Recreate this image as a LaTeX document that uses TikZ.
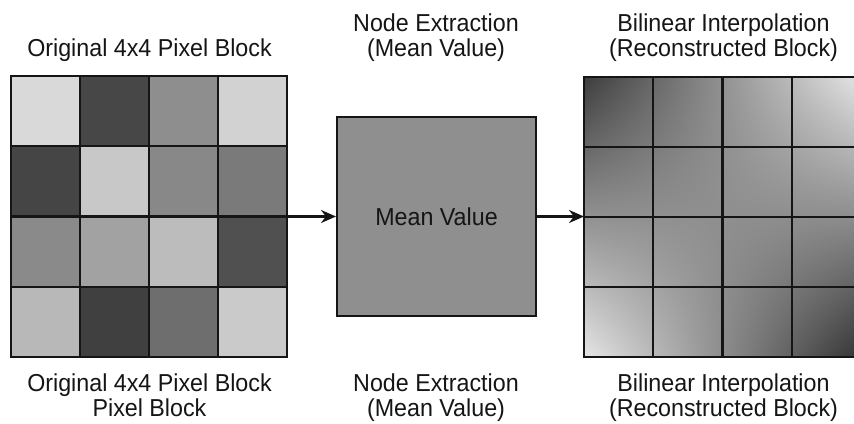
\documentclass[tikz,border=0pt]{standalone}
\usepackage{fontspec}
\usepackage{graphicx}
\setmainfont{Liberation Sans}
\usetikzlibrary{arrows.meta}

% Saddle-shaped bilinear field: dark top-left and bottom-right corners,
% light top-right and bottom-left corners. The path box maps to 25..75bp.
\pgfdeclarefunctionalshading{bilinfield}{\pgfpoint{0bp}{0bp}}{\pgfpoint{100bp}{100bp}}{}{
  25 sub 2 mul exch 25 sub 2 mul exch
  2 copy mul 0.000136 mul 3 1 roll
  -0.0066 mul exch -0.0070 mul add add 0.90 add
  dup dup
}

\definecolor{inkc}{HTML}{151515}
\definecolor{boxgray}{HTML}{8F8F8F}

\newcommand\lbl[1]{\scalebox{0.95}[1]{#1}}

\tikzset{
  caption/.style={anchor=base, inner sep=0pt, text=inkc,
    font=\fontsize{24.5}{26}\selectfont},
  gridline/.style={draw=inkc, line width=2.4pt},
  flowarrow/.style={draw=inkc, line width=2.2pt,
    -{Stealth[length=15pt, width=13pt]}},
  frame/.style={inner sep=0pt, outer sep=0pt, draw=none},
}

\begin{document}
\begin{tikzpicture}[x=1pt, y=-1pt]
\useasboundingbox (0,0) rectangle (854,423);
\clip (0,0) rectangle (854,423);
\fill[white] (0,0) rectangle (854,423);

% ---------- original 4x4 block ----------
\node[frame, minimum width=276pt, minimum height=281pt] (orig) at (149,216.5) {};
\foreach \c/\r/\g in {
  0/0/217, 1/0/71,  2/0/142, 3/0/210,
  0/1/69,  1/1/200, 2/1/136, 3/1/122,
  0/2/138, 1/2/162, 2/2/188, 3/2/80,
  0/3/184, 1/3/64,  2/3/110, 3/3/202}
{
  \fill[fill={rgb,255:red,\g;green,\g;blue,\g}]
    ({11+69*\c},{76+70.25*\r}) rectangle ({11+69*(\c+1)},{76+70.25*(\r+1)});
}
\foreach \k in {1,2,3} {
  \draw[gridline] ({11+69*\k},76) -- ({11+69*\k},357);
  \draw[gridline] (11,{76+70.25*\k}) -- (287,{76+70.25*\k});
}
\draw[gridline] (orig.north west) rectangle (orig.south east);

% ---------- mean value box ----------
\node[draw=inkc, line width=2pt, fill=boxgray, minimum width=199pt,
  minimum height=199pt, inner sep=0pt, text=inkc,
  font=\fontsize{24.5}{26}\selectfont] (mean) at (436.5,216.5) {\lbl{Mean Value}};

% ---------- reconstructed block ----------
\node[frame, minimum width=277pt, minimum height=280pt] (recon) at (722.5,217) {};
\shade[shading=bilinfield] (recon.north west) rectangle (recon.south east);
\foreach \k in {1,2,3} {
  \draw[gridline] ({584+69.25*\k},77) -- ({584+69.25*\k},357);
  \draw[gridline] (584,{77+70*\k}) -- (861,{77+70*\k});
}
\draw[gridline] (recon.north west) rectangle (recon.south east);

% ---------- connectors ----------
\draw[flowarrow] (orig.east) -- (mean.west);
\draw[flowarrow] (mean.east) -- (mean.east -| recon.west);

% ---------- captions above ----------
\node[caption] (capOrigTop) at (149.5,56.5) {\lbl{Original 4x4 Pixel Block}};
\node[caption] (capNodeTopA) at (436,31.5) {\lbl{Node Extraction}};
\node[caption] (capNodeTopB) at (436,56.5) {\lbl{(Mean Value)}};
\node[caption] (capBilTopA) at (723.5,31.5) {\lbl{Bilinear Interpolation}};
\node[caption] (capBilTopB) at (723.5,56.5) {\lbl{(Reconstructed Block)}};

% ---------- captions below ----------
\node[caption] (capOrigBotA) at (149.5,391.5) {\lbl{Original 4x4 Pixel Block}};
\node[caption] (capOrigBotB) at (149.5,416.5) {\lbl{Pixel Block}};
\node[caption] (capNodeBotA) at (436,391.5) {\lbl{Node Extraction}};
\node[caption] (capNodeBotB) at (436,416.5) {\lbl{(Mean Value)}};
\node[caption] (capBilBotA) at (723.5,391.5) {\lbl{Bilinear Interpolation}};
\node[caption] (capBilBotB) at (723.5,416.5) {\lbl{(Reconstructed Block)}};
\end{tikzpicture}
\end{document}
